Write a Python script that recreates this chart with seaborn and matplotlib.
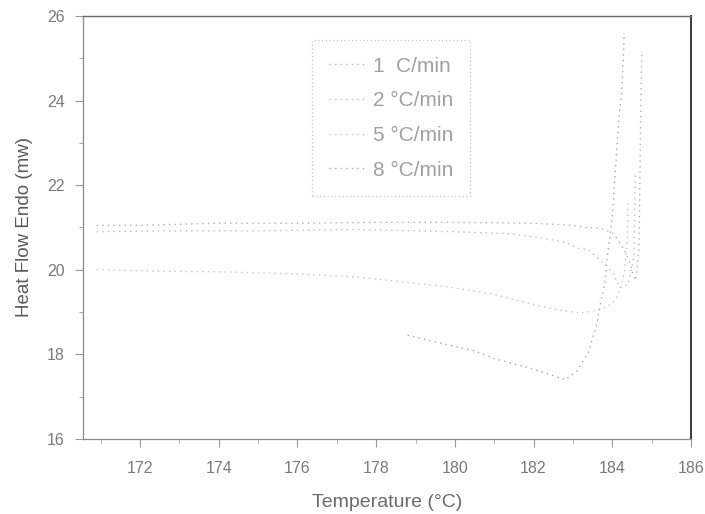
import matplotlib
matplotlib.use("Agg")
import matplotlib.pyplot as plt
from matplotlib.ticker import MultipleLocator
import seaborn as sns
import pandas as pd

# ---- data ----
rates = ["1  C/min", "2 °C/min", "5 °C/min", "8 °C/min"]

t_1 = [170.9, 172.0, 174.0, 176.0, 178.0, 180.0, 182.0, 183.0, 183.3, 183.7,
       184.0, 184.15, 184.3, 184.45, 184.52, 184.6, 184.68, 184.7, 184.72, 184.75]
h_1 = [21.05, 21.05, 21.1, 21.1, 21.12, 21.12, 21.1, 21.05, 21.0, 20.98,
       20.87, 20.7, 20.47, 20.16, 19.9, 19.75, 20.5, 22.0, 23.5, 25.15]

t_2 = [170.9, 172.5, 175.0, 177.5, 180.0, 181.4, 182.2, 182.8, 183.16, 183.4,
       183.6, 183.84, 184.0, 184.2, 184.4, 184.55, 184.57, 184.58]
h_2 = [20.9, 20.92, 20.92, 20.95, 20.9, 20.85, 20.75, 20.65, 20.5, 20.47,
       20.3, 20.1, 19.95, 19.57, 19.65, 20.3, 21.2, 22.3]

t_5 = [170.9, 172.4, 174.1, 176.0, 177.5, 179.8, 181.0, 181.9, 182.6, 183.2,
       183.7, 184.0, 184.15, 184.3, 184.38, 184.4]
h_5 = [20.0, 19.97, 19.95, 19.9, 19.83, 19.6, 19.42, 19.2, 19.05, 18.98,
       19.05, 19.2, 19.4, 19.9, 20.6, 21.6]

t_8 = [178.8, 179.3, 179.85, 180.5, 181.0, 182.0, 182.8, 183.1, 183.4, 183.6,
       183.7, 183.8, 183.85, 184.0, 184.09, 184.17, 184.24, 184.29, 184.3]
h_8 = [18.45, 18.34, 18.22, 18.08, 17.9, 17.65, 17.4, 17.6, 18.06, 18.7,
       19.2, 19.64, 20.1, 21.25, 22.5, 23.6, 24.2, 25.2, 25.6]

x_ticks = [172, 174, 176, 178, 180, 182, 184, 186]
y_ticks = [16, 18, 20, 22, 24, 26]

frames = []
for r, t, h in zip(rates, [t_1, t_2, t_5, t_8], [h_1, h_2, h_5, h_8]):
    frames.append(pd.DataFrame({"Temperature": t, "Heat": h, "Rate": r}))
df = pd.concat(frames, ignore_index=True)

sns.set_style("ticks")
plt.rcParams["font.family"] = ["Liberation Sans", "DejaVu Sans"]

fig = plt.figure(figsize=(7.05, 5.14), dpi=100)
ax = fig.add_axes([0.1177, 0.146, 0.8624, 0.823])

palette = {rates[0]: "#b0b0b0", rates[1]: "#bcbcbc",
           rates[2]: "#c4c4c4", rates[3]: "#a6a6a6"}
sns.lineplot(data=df, x="Temperature", y="Heat", hue="Rate", palette=palette,
             sort=False, estimator=None, units="Rate", ax=ax, linewidth=1.0,
             legend=False)
for ln in ax.lines:
    ln.set_linestyle((0, (1, 3)))

ax.set_xlim(170.55, 186)
ax.set_ylim(16, 26)
ax.set_xticks(x_ticks)
ax.set_yticks(y_ticks)
ax.xaxis.set_minor_locator(MultipleLocator(1))
ax.yaxis.set_minor_locator(MultipleLocator(1))
ax.tick_params(axis="both", which="major", direction="out", length=6,
               width=0.8, color="#999999", labelsize=11.5,
               labelcolor="#7a7a7a")
ax.tick_params(axis="both", which="minor", direction="out", length=3,
               width=0.7, color="#aaaaaa")
ax.tick_params(axis="x", which="major", pad=10)
ax.tick_params(axis="y", which="major", pad=7)

for side in ["left", "bottom"]:
    ax.spines[side].set_color("#8a8a8a")
    ax.spines[side].set_linewidth(0.9)
    ax.spines[side].set_linestyle((0, (4, 1)))
ax.spines["top"].set_visible(True)
ax.spines["right"].set_visible(True)
ax.spines["top"].set_color("#6a6a6a")
ax.spines["top"].set_linewidth(1.0)
ax.spines["right"].set_color("#3a3a3a")
ax.spines["right"].set_linewidth(1.4)

ax.set_xlabel("Temperature (°C)", fontsize=14, color="#6a6a6a", labelpad=13)
ax.set_ylabel("Heat Flow Endo (mw)", fontsize=13.5, color="#5a5a5a",
              labelpad=10)

handles = ax.lines[:4]
leg = ax.legend(handles, rates, loc="upper left",
                bbox_to_anchor=(0.3766, 0.943), borderaxespad=0,
                frameon=True, fontsize=15, handlelength=1.7,
                handletextpad=0.45, labelspacing=0.75, borderpad=0.8,
                fancybox=False, labelcolor="#a0a0a0")
leg.get_frame().set_edgecolor("#b8b8b8")
leg.get_frame().set_linestyle((0, (1, 2)))
leg.get_frame().set_linewidth(0.9)

fig.savefig("out.png", dpi=100, facecolor="white")
